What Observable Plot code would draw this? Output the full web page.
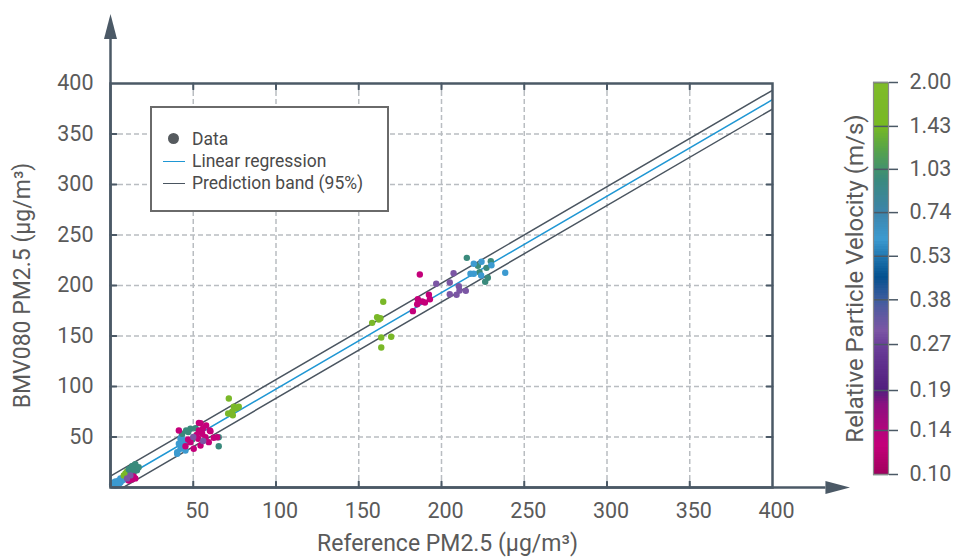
<!DOCTYPE html>
<html>
<head>
<meta charset="utf-8">
<script src="https://cdn.jsdelivr.net/npm/d3@7"></script>
<script src="https://cdn.jsdelivr.net/npm/@observablehq/plot@0.6"></script>
<style>
  body { margin: 0; background: #ffffff; }
  #wrap { position: relative; width: 957px; height: 560px; font-family: Roboto, sans-serif; overflow: hidden; }
  #bar { position: absolute; left: 820px; top: 0; }
  #legend { position: absolute; left: 150px; top: 106px; width: 239px; height: 106px; box-sizing: border-box;
            border: 2px solid #6a6a6a; background: #ffffff; font-size: 17.5px; color: #4a4a4a; }
  .item { position: absolute; left: 40px; height: 20px; line-height: 20px; white-space: nowrap; }
  .sym { position: absolute; }
</style>
</head>
<body>
<div id="wrap">
  <div id="main"></div>
  <div id="bar"></div>
  <div id="legend">
    <div class="sym" style="left:15.5px;top:24.5px;width:11px;height:11px;border-radius:50%;background:#555a5e;"></div>
    <div class="item" style="top:21px;">Data</div>
    <div class="sym" style="left:11px;top:52.5px;width:22px;height:0;border-top:1.5px solid #1f97d4;"></div>
    <div class="item" style="top:43px;">Linear regression</div>
    <div class="sym" style="left:11px;top:74.5px;width:22px;height:0;border-top:1.5px solid #4a5560;"></div>
    <div class="item" style="top:65px;">Prediction band (95%)</div>
  </div>
</div>
<script>
// ---------------- data ----------------
const refPM = [
  // low-concentration cluster
  1, 2, 3, 3, 4, 5, 6, 6, 7, 8, 5, 9,
  8, 9, 10, 11, 12, 10,
  11, 12, 13, 14, 15, 16, 14, 17,
  11, 12, 13, 14, 15,
  12, 10,
  // ~40-65 cluster
  40.3, 41.3, 42.3, 42.3, 44.3, 44.3, 45.3, 47.3, 40.3, 43,
  43.3, 45.7, 48.3, 51.4, 49.4, 65.4, 65.4, 47,
  41.3, 45.3, 46.9, 48.3, 50.3, 53, 53.4, 53.4, 54.4, 55.4, 55.8, 57.4, 57.8, 59.4, 60, 60.4, 62.4, 64.5, 54.4, 52,
  50, 56,
  // ~70-78 cluster
  71.5, 74.5, 75.5, 76.6, 73.5, 71.1, 73.9, 77.5,
  // high clusters
  164.8, 161.1, 163.1, 162.1, 158.1, 163.6, 169.6, 163.6,
  186.9, 185.7, 188.3, 190, 192.4, 193, 185.3, 182.7,
  196.8, 205, 207.3, 210.5, 205, 209.1, 210.9, 214.7,
  215.3, 222, 227.2, 229.8, 223, 228, 226.4,
  219.5, 224.2, 217.5, 219.5, 224, 230.2, 238.5
];
const bmvPM = [
  3, 5, 2, 6, 4, 7, 5, 9, 7, 10, 3, 8,
  12, 14, 11, 13, 15, 16,
  18, 16, 21, 19, 23, 17, 15, 20,
  7, 10, 8, 11, 9,
  12, 9,
  35, 43.3, 38.3, 48.2, 41.6, 46.5, 36.6, 44.9, 33.4, 51,
  53.2, 56.4, 58.1, 58.7, 47.5, 49.8, 40.9, 55,
  56.4, 40.9, 47.5, 44.9, 38.3, 48.2, 56.4, 64, 63.7, 53.2, 58.1, 49.8, 61.4, 44.9, 56.4, 55.8, 49.2, 49.8, 41.6, 52,
  50, 46,
  88.1, 79.9, 78.2, 78.9, 75, 73.3, 71.6, 79.9,
  183.9, 168.6, 167.6, 166.3, 163, 148.5, 149.2, 138.6,
  210.9, 186.4, 184.2, 183.2, 190.8, 186.4, 181.5, 174.6,
  201.7, 203, 212.2, 199.3, 191.4, 190.8, 195, 194.7,
  227.4, 219.5, 217.5, 224, 213.2, 207.6, 203.7,
  221.5, 223.5, 211.6, 211.6, 209.9, 220.1, 212.6
];
const velocity = [
  0.6, 0.6, 0.6, 0.6, 0.6, 0.6, 0.6, 0.6, 0.6, 0.6, 0.6, 0.6,
  1.6, 1.6, 1.6, 1.6, 1.6, 1.6,
  0.95, 0.95, 0.95, 0.95, 0.95, 0.95, 0.95, 0.95,
  0.125, 0.125, 0.125, 0.125, 0.125,
  0.3, 0.3,
  0.6, 0.6, 0.6, 0.6, 0.6, 0.6, 0.6, 0.6, 0.6, 0.6,
  0.95, 0.95, 0.95, 0.95, 0.95, 0.95, 0.95, 0.95,
  0.125, 0.125, 0.125, 0.125, 0.125, 0.125, 0.125, 0.125, 0.125, 0.125, 0.125, 0.125, 0.125, 0.125, 0.125, 0.125, 0.125, 0.125, 0.125, 0.125,
  0.3, 0.3,
  1.6, 1.6, 1.6, 1.6, 1.6, 1.6, 1.6, 1.6,
  1.6, 1.6, 1.6, 1.6, 1.6, 1.6, 1.6, 1.6,
  0.125, 0.125, 0.125, 0.125, 0.125, 0.125, 0.125, 0.125,
  0.3, 0.3, 0.3, 0.3, 0.3, 0.3, 0.3, 0.3,
  0.95, 0.95, 0.95, 0.95, 0.95, 0.95, 0.95,
  0.6, 0.6, 0.6, 0.6, 0.6, 0.6, 0.6
];

// regression and prediction band
const regIntercept = 2;
const regSlope = 0.955;
const bandHalfWidth = 9.3;
const regSpan = [0, 400];

// ticks and labels
const xTicks = [50, 100, 150, 200, 250, 300, 350, 400];
const yTicks = [50, 100, 150, 200, 250, 300, 350, 400];
const gridTicks = [50, 100, 150, 200, 250, 300, 350];
const cbTicks = [0.10, 0.14, 0.19, 0.27, 0.38, 0.53, 0.74, 1.03, 1.43, 2.00];
const xTitle = "Reference PM2.5 (µg/m³)";
const yTitle = "BMV080 PM2.5 (µg/m³)";
const cbTitle = "Relative Particle Velocity (m/s)";

// colour map stops
const velocityStops  = [0.10, 0.125, 0.17, 0.19, 0.27, 0.30, 0.38, 0.45, 0.60, 0.74, 0.95, 1.20, 1.43, 1.60, 2.00];
const velocityColors = ["#a0005e", "#c4007a", "#8a1080", "#521e7e", "#6c409a", "#7b56a4", "#3d5c9e", "#03508e",
                        "#3c9ad0", "#3d84aa", "#3a8a7c", "#58a448", "#78ba22", "#7ab828", "#80bc28"];

// axis arrow extents (data units)
const axisArrows = [
  {x1: 0, y1: 0, x2: 0, y2: 444},
  {x1: 0, y1: 0, x2: 432, y2: 0}
];

// ---------------- build ----------------
const axisColor = "#4b5966";
const textColor = "#5a5a5a";
const tickFont = 21.5;
const titleFont = 23;
const points = refPM.map((x, i) => ({x, y: bmvPM[i], v: velocity[i]}));
const fit = regSpan.map(x => ({x, y: regIntercept + regSlope * x}));
const upper = regSpan.map(x => ({x, y: regIntercept + regSlope * x + bandHalfWidth}));
const lower = regSpan.map(x => ({x, y: regIntercept + regSlope * x - bandHalfWidth}));
const colorScale = {type: "linear", domain: velocityStops, range: velocityColors, interpolate: "rgb"};

function arrowHead(color) {
  const ns = "http://www.w3.org/2000/svg";
  const m = document.createElementNS(ns, "marker");
  m.setAttribute("viewBox", "0 -7 25 14");
  m.setAttribute("markerWidth", "25");
  m.setAttribute("markerHeight", "14");
  m.setAttribute("refX", "0");
  m.setAttribute("refY", "0");
  m.setAttribute("orient", "auto");
  m.setAttribute("markerUnits", "userSpaceOnUse");
  const p = document.createElementNS(ns, "path");
  p.setAttribute("d", "M0,-6.5L25,0L0,6.5Z");
  p.setAttribute("fill", color);
  p.setAttribute("stroke", "none");
  m.appendChild(p);
  return m;
}
const tickShape = {draw(context, l) { context.moveTo(0, 0); context.lineTo(0, -l); }};
const tickOpts = {length: 6, anchor: "start", shape: tickShape, stroke: axisColor, strokeWidth: 2};

const main = Plot.plot({
  width: 957, height: 560,
  marginLeft: 110, marginRight: 185, marginTop: 83, marginBottom: 73,
  style: {fontFamily: "Roboto, sans-serif", fontSize: "20px", color: textColor, background: "transparent", overflow: "visible"},
  x: {domain: [0, 400]},
  y: {domain: [0, 400]},
  color: colorScale,
  marks: [
    Plot.gridX(gridTicks, {stroke: "#b9bdc1", strokeOpacity: 1, strokeWidth: 1.5, strokeDasharray: "5,3"}),
    Plot.gridY(gridTicks, {stroke: "#b9bdc1", strokeOpacity: 1, strokeWidth: 1.5, strokeDasharray: "5,3"}),
    Plot.line(upper, {x: "x", y: "y", stroke: "#4a5560", strokeWidth: 1.5, clip: true}),
    Plot.line(lower, {x: "x", y: "y", stroke: "#4a5560", strokeWidth: 1.5, clip: true}),
    Plot.line(fit, {x: "x", y: "y", stroke: "#1f97d4", strokeWidth: 1.5, clip: true}),
    Plot.dot(points, {x: "x", y: "y", fill: "v", r: 3.2}),
    Plot.frame({stroke: axisColor, strokeWidth: 2.5}),
    Plot.vector(gridTicks, {...tickOpts, x: d => d, y: () => 0, rotate: 0}),
    Plot.vector(gridTicks, {...tickOpts, x: d => d, y: () => 400, rotate: 180}),
    Plot.vector(gridTicks, {...tickOpts, x: () => 0, y: d => d, rotate: 90}),
    Plot.vector(gridTicks, {...tickOpts, x: () => 400, y: d => d, rotate: -90}),
    Plot.link(axisArrows, {x1: "x1", y1: "y1", x2: "x2", y2: "y2", stroke: axisColor, strokeWidth: 2.5, markerEnd: arrowHead}),
    Plot.axisX(xTicks, {tickSize: 0, tickPadding: 15, dx: 4, label: null, fontSize: tickFont}),
    Plot.axisY(yTicks, {tickSize: 0, tickPadding: 17, label: null, fontSize: tickFont}),
    Plot.text([xTitle], {frameAnchor: "bottom", dy: 63, dx: 6, fontSize: titleFont, fill: textColor}),
    Plot.text([yTitle], {frameAnchor: "left", textAnchor: "middle", rotate: -90, dx: -88, fontSize: titleFont, fill: textColor})
  ]
});
document.getElementById("main").appendChild(main);

// colour bar
const rampN = 160;
const cbMin = cbTicks[0], cbMax = cbTicks[cbTicks.length - 1];
const slices = d3.range(rampN).map(i => {
  const lo = cbMin * Math.pow(cbMax / cbMin, i / rampN);
  const hi = cbMin * Math.pow(cbMax / cbMin, (i + 1) / rampN);
  return {lo, hi, mid: Math.sqrt(lo * hi)};
});
const bar = Plot.plot({
  width: 137, height: 560,
  marginLeft: 53, marginRight: 69, marginTop: 82, marginBottom: 86,
  style: {fontFamily: "Roboto, sans-serif", fontSize: "20px", color: textColor, background: "transparent", overflow: "visible"},
  y: {type: "log", domain: [cbMin, cbMax]},
  color: colorScale,
  marks: [
    Plot.rect(slices, {y1: "lo", y2: "hi", fill: "mid", shapeRendering: "crispEdges"}),
    Plot.ruleY(cbTicks, {stroke: axisColor, strokeWidth: 1.5}),
    Plot.frame({stroke: "#8a8a8a", strokeWidth: 1.2}),
    Plot.axisY(cbTicks, {anchor: "right", tickSize: 9, tickPadding: 12, tickFormat: d3.format(".2f"),
                         stroke: axisColor, strokeWidth: 1.5, label: null, fontSize: tickFont}),
    Plot.text([cbTitle], {frameAnchor: "left", textAnchor: "middle", rotate: -90, dx: -18, fontSize: 24, fill: textColor})
  ]
});
document.getElementById("bar").appendChild(bar);
</script>
</body>
</html>
